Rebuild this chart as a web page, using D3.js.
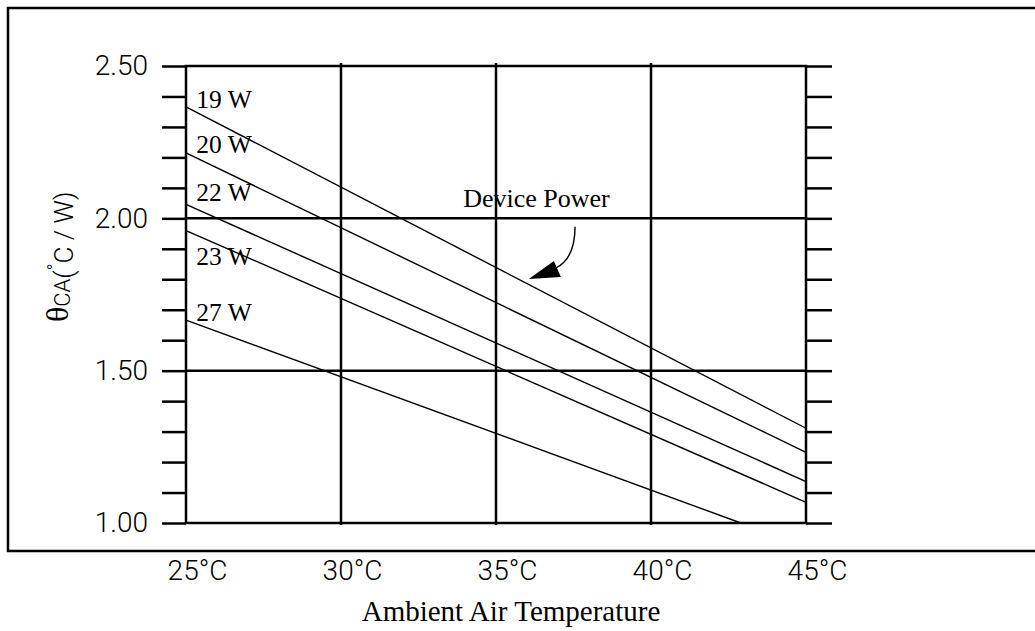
<!DOCTYPE html>
<html>
<head>
<meta charset="utf-8">
<script src="https://cdn.jsdelivr.net/npm/d3@7"></script>
<style>
  body { margin: 0; background: #fff; }
  svg { display: block; }
  .tick text { font-family: Roboto, "Liberation Sans", sans-serif; font-weight: 300; font-size: 28px; fill: #000; }
  .serif { font-family: "Liberation Serif", "Times New Roman", serif; fill: #000; }
</style>
</head>
<body>
<svg id="chart"></svg>
<script>
// data
const temps = [25, 30, 35, 40, 45];
const tempLabels = ["25°C", "30°C", "35°C", "40°C", "45°C"];
const yTicks = [1.0, 1.1, 1.2, 1.3, 1.4, 1.5, 1.6, 1.7, 1.8, 1.9, 2.0, 2.1, 2.2, 2.3, 2.4, 2.5];
const yLabelled = [1.0, 1.5, 2.0, 2.5];
const gridTemps = [30, 35, 40];
const gridTheta = [1.5, 2.0];

const powers = ["19 W", "20 W", "22 W", "23 W", "27 W"];
const startTemp = [25, 25, 25, 25, 25];
const endTemp = [45, 45, 45, 45, 42.9];
const startTheta = [2.366, 2.215, 2.046, 1.960, 1.666];
const endTheta = [1.311, 1.232, 1.136, 1.068, 1.000];
const labelTheta = [2.362, 2.214, 2.057, 1.847, 1.663];

const width = 1035;
const height = 631;

const svg = d3.select("#chart")
  .attr("width", width)
  .attr("height", height);

const x = d3.scaleLinear().domain([25, 45]).range([186, 806]);
const y = d3.scaleLinear().domain([1, 2.5]).range([523, 66]);

// outer frame (right side runs off the page)
svg.append("rect")
  .attr("x", 8).attr("y", 8)
  .attr("width", 1040).attr("height", 543)
  .attr("fill", "none").attr("stroke", "#000").attr("stroke-width", 2.5);

// left ticks + labels
const yAxis = d3.axisLeft(y)
  .tickValues(yTicks)
  .tickSize(24)
  .tickPadding(14)
  .tickFormat(d => yLabelled.some(v => Math.abs(v - d) < 1e-9) ? d3.format(".2f")(d) : "");
svg.append("g")
  .attr("transform", `translate(${x(25)},0)`)
  .call(yAxis)
  .call(g => g.select(".domain").remove())
  .call(g => g.selectAll(".tick line").attr("stroke-width", 2.5));

// right ticks
svg.append("g")
  .attr("transform", `translate(${x(45)},0)`)
  .call(d3.axisRight(y).tickValues(yTicks).tickSize(26).tickFormat(""))
  .call(g => g.select(".domain").remove())
  .call(g => g.selectAll(".tick line").attr("stroke-width", 2.5));

// bottom labels
svg.append("g")
  .attr("transform", `translate(0,${y(1)})`)
  .call(d3.axisBottom(x).tickValues(temps).tickSize(0).tickPadding(37)
    .tickFormat((d, i) => tempLabels[i]))
  .call(g => g.select(".domain").remove())
  .call(g => g.selectAll(".tick text").attr("dx", 11));

// grid
svg.append("g").selectAll("line")
  .data(gridTemps)
  .join("line")
  .attr("x1", d => x(d)).attr("x2", d => x(d))
  .attr("y1", y(2.5) - 3).attr("y2", y(1) + 2)
  .attr("stroke", "#000").attr("stroke-width", 2.5);

svg.append("g").selectAll("line")
  .data(gridTheta)
  .join("line")
  .attr("x1", x(25)).attr("x2", x(45))
  .attr("y1", d => y(d)).attr("y2", d => y(d))
  .attr("stroke", "#000").attr("stroke-width", 2.5);

svg.append("rect")
  .attr("x", x(25)).attr("y", y(2.5))
  .attr("width", x(45) - x(25)).attr("height", y(1) - y(2.5))
  .attr("fill", "none").attr("stroke", "#000").attr("stroke-width", 2.5);

// power curves
const line = d3.line().x(d => x(d[0])).y(d => y(d[1]));
svg.append("g").selectAll("path")
  .data(powers.map((p, i) => [[startTemp[i], startTheta[i]], [endTemp[i], endTheta[i]]]))
  .join("path")
  .attr("d", line)
  .attr("fill", "none").attr("stroke", "#000").attr("stroke-width", 1.4);

svg.append("g").selectAll("text")
  .data(powers)
  .join("text")
  .attr("class", "serif")
  .attr("x", x(25.33))
  .attr("y", (d, i) => y(labelTheta[i]))
  .attr("font-size", 25.5)
  .text(d => d);

// "Device Power" annotation
svg.append("text")
  .attr("class", "serif")
  .attr("x", x(33.94))
  .attr("y", y(2.037))
  .attr("font-size", 26)
  .text("Device Power");

const a0 = [x(37.55), y(1.972)];
const tip = [x(36.06), y(1.801)];
svg.append("path")
  .attr("d", `M${a0[0]},${a0[1]} C${a0[0]},${a0[1] + 23} ${a0[0] - 7},${a0[1] + 35} ${a0[0] - 19},${a0[1] + 41}`)
  .attr("fill", "none").attr("stroke", "#000").attr("stroke-width", 1.4);
svg.append("path")
  .attr("d", `M${tip[0]},${tip[1]} L${tip[0] + 25},${tip[1] - 18} L${tip[0] + 32},${tip[1] - 2} Z`)
  .attr("fill", "#000");

// axis titles
svg.append("text")
  .attr("class", "serif")
  .attr("x", (x(25) + x(45)) / 2 + 15)
  .attr("y", 621)
  .attr("text-anchor", "middle")
  .attr("font-size", 29)
  .text("Ambient Air Temperature");

const yt = svg.append("text")
  .attr("transform", "translate(68,322) rotate(-90)")
  .attr("font-family", "Roboto, 'Liberation Sans', sans-serif")
  .attr("font-weight", 300);
yt.append("tspan").attr("font-family", "'Liberation Serif', serif").attr("font-weight", 400).attr("font-size", 32).text("θ");
yt.append("tspan").attr("font-size", 22).attr("dy", 2).text("CA");
yt.append("tspan").attr("font-size", 26).attr("dy", 3).text("(");
yt.append("tspan").attr("font-size", 18).attr("dy", -12).text("°");
yt.append("tspan").attr("font-size", 26).attr("dy", 12).text("C / W)");
</script>
</body>
</html>
